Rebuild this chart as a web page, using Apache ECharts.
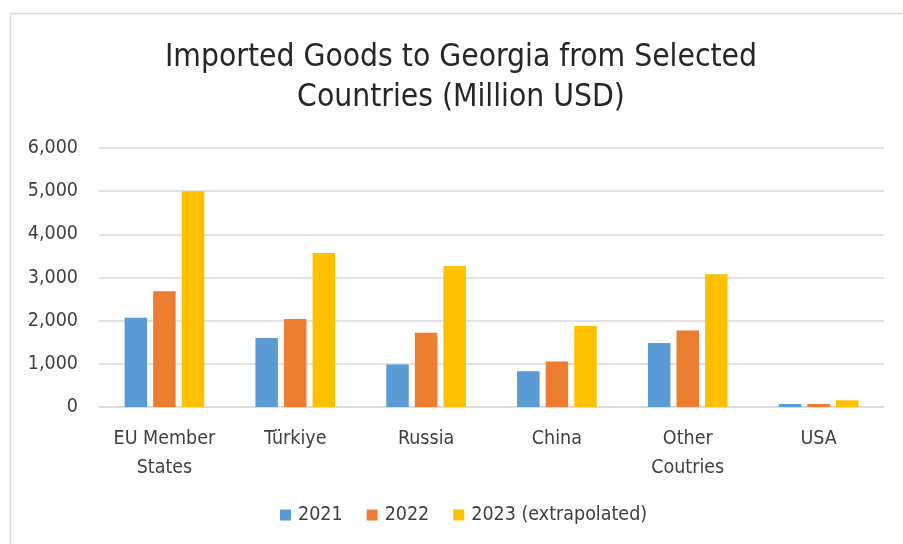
<!DOCTYPE html>
<html>
<head>
<meta charset="utf-8">
<script src="https://cdn.jsdelivr.net/npm/echarts@6/dist/echarts.min.js"></script>
<style>html,body{margin:0;padding:0;background:#fff}#c{width:903px;height:544px}</style>
</head>
<body>
<div id="c"></div>
<script>
var categories = ["EU Member\nStates", "Türkiye", "Russia", "China", "Other\nCoutries", "USA"];
var seriesNames = ["2021", "2022", "2023 (extrapolated)"];
var values2021 = [2070, 1600, 985, 830, 1485, 70];
var values2022 = [2680, 2040, 1720, 1055, 1775, 70];
var values2023 = [5000, 3570, 3265, 1875, 3075, 155];
var yTicks = [0, 1000, 2000, 3000, 4000, 5000, 6000];

var FONT = "'Liberation Sans Narrow', 'DejaVu Sans Condensed', 'Liberation Sans', sans-serif";
var colors = ['#5B9BD5', '#ED7D31', '#FFC000'];
var chart = echarts.init(document.getElementById('c'));
function mk(name, data, i) {
  return {
    name: name, type: 'bar', data: data, barWidth: 22.5, barGap: '27%',
    itemStyle: { color: colors[i] }, emphasis: { disabled: true }
  };
}
chart.setOption({
  animation: false,
  color: colors,
  graphic: [{
    type: 'rect', left: 8, top: 11, shape: { width: 1000, height: 1000 },
    style: { fill: 'none', stroke: '#d9d9d9', lineWidth: 1.5 }, silent: true
  }],
  title: {
    text: 'Imported Goods to Georgia from Selected\nCountries (Million USD)',
    left: 461, top: 38, padding: 0, textAlign: 'center',
    textStyle: { fontFamily: FONT, fontSize: 31.5, fontWeight: 'normal', color: '#262626', lineHeight: 40 }
  },
  legend: {
    data: seriesNames, left: 275, top: 500, itemWidth: 11, itemHeight: 11, itemGap: 24,
    icon: 'rect',
    textStyle: { fontFamily: FONT, fontSize: 19.5, color: '#404040', padding: [0, 0, 0, 2] }
  },
  grid: { left: 99, right: 19, top: 148, bottom: 137 },
  xAxis: {
    type: 'category', data: categories,
    axisLine: { lineStyle: { color: '#d9d9d9', width: 1.5 } },
    axisTick: { show: false },
    axisLabel: { fontFamily: FONT, fontSize: 19.5, color: '#404040', margin: 17, lineHeight: 29, interval: 0 }
  },
  yAxis: {
    type: 'value', min: yTicks[0], max: yTicks[yTicks.length - 1], interval: 1000,
    axisLine: { show: false }, axisTick: { show: false },
    splitLine: { lineStyle: { color: '#d9d9d9', width: 1.5 } },
    axisLabel: {
      fontFamily: FONT, fontSize: 19.5, color: '#404040', margin: 21,
      formatter: function (v) { return v.toLocaleString('en-US'); }
    }
  },
  series: [mk(seriesNames[0], values2021, 0), mk(seriesNames[1], values2022, 1), mk(seriesNames[2], values2023, 2)]
});
</script>
</body>
</html>
